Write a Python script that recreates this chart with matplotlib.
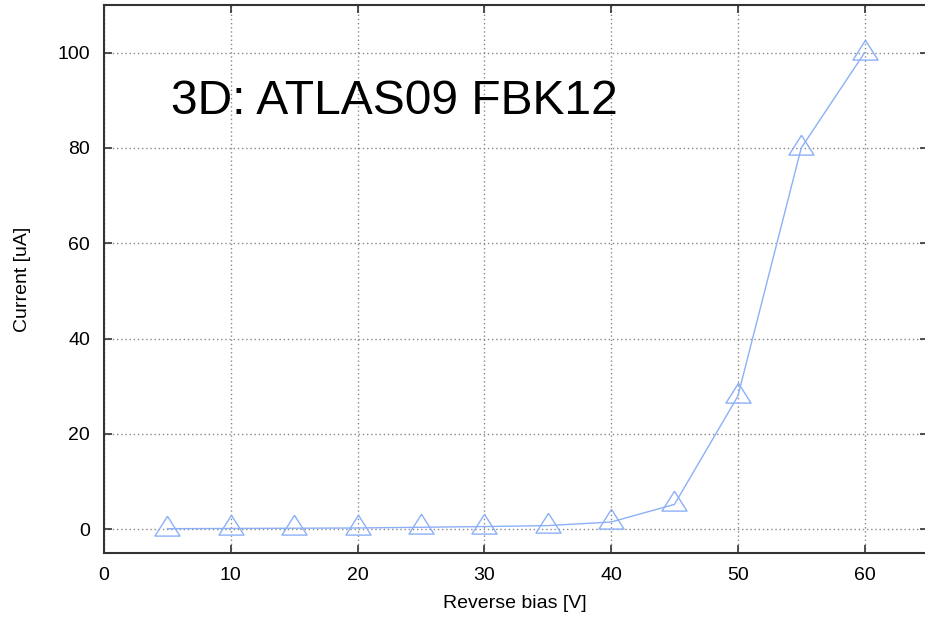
import matplotlib
matplotlib.use("Agg")
import matplotlib.pyplot as plt

bias = [5, 10, 15, 20, 25, 30, 35, 40, 45, 50, 55, 60]
current = [0.1, 0.15, 0.2, 0.25, 0.4, 0.55, 0.75, 1.5, 5.2, 27.9, 80.0, 100.0]
xticks = [0, 10, 20, 30, 40, 50, 60]
yticks = [0, 20, 40, 60, 80, 100]
title_text = "3D: ATLAS09 FBK12"

plt.rcParams['font.family'] = ['Liberation Sans', 'DejaVu Sans']

fig = plt.figure(figsize=(9.25, 6.17), dpi=100)
W, H = 925, 617
x0, x1 = 104, 928
y0, y1 = 553, 5
ax = fig.add_axes([x0 / W, 1 - y0 / H, (x1 - x0) / W, (y0 - y1) / H])

tri = [(0, 1), (-0.95, -0.5), (0.95, -0.5), (0, 1)]
col = '#8cb0f8'
ax.plot(bias, current, color=col, lw=1.0, marker=tri, markersize=19,
        markerfacecolor='none', markeredgecolor=col, markeredgewidth=1.0)

ax.set_xlim(0, 65)
ax.set_ylim(-5, 110)
ax.set_xticks(xticks)
ax.set_yticks(yticks)
ax.tick_params(direction='in', length=6, width=1.2, colors='#333333',
               labelcolor='black', labelsize=14, top=True, right=True, pad=10)
ax.grid(True, color='#888888', linestyle=(0, (1, 2)), linewidth=1.0)
for s in ax.spines.values():
    s.set_color('#333333')
    s.set_linewidth(1.5)

ax.set_xlabel('Reverse bias [V]', fontsize=14, va='center')
ax.xaxis.set_label_coords(0.499, -0.092)
ax.set_ylabel('Current [uA]', fontsize=14, va='center')
ax.yaxis.set_label_coords(-0.0995, 0.5)
ax.text(5.3, 89.7, title_text, fontsize=34.6, ha='left', va='center')

fig.savefig('out.png', dpi=100)
